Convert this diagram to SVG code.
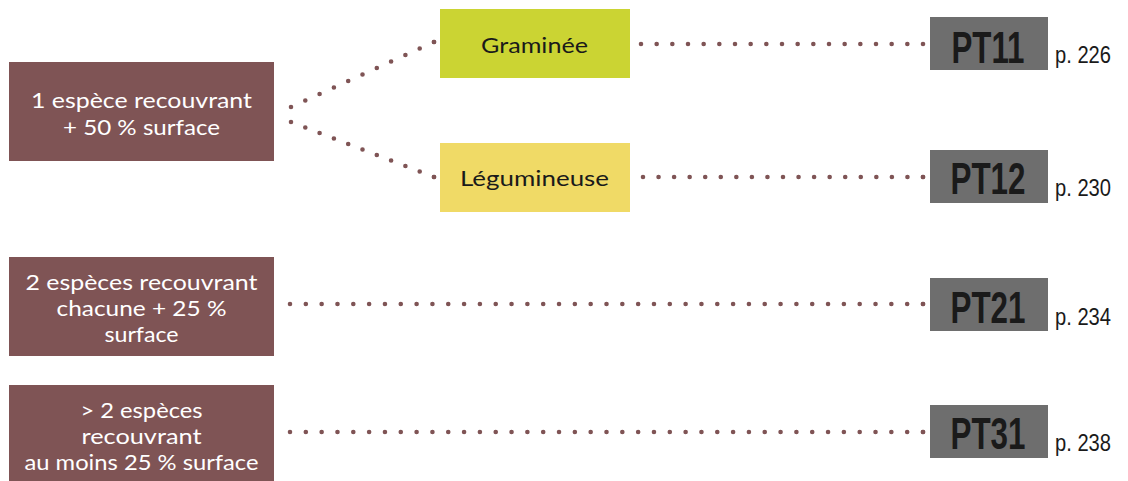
<svg xmlns="http://www.w3.org/2000/svg" width="1128" height="481" viewBox="0 0 1128 481">
<defs>
<marker id="enddot" markerUnits="userSpaceOnUse" markerWidth="6" markerHeight="6" refX="3" refY="3" viewBox="0 0 6 6">
<circle cx="3" cy="3" r="2.3" fill="#7f5455"/>
</marker>
</defs>
<style>
.brown{fill:#7f5455}
.wt{font-family:Lato,"Open Sans","Liberation Sans",Arial,sans-serif;font-size:21.5px;fill:#ffffff;text-anchor:middle}
.bt{font-family:Lato,"Open Sans","Liberation Sans",Arial,sans-serif;font-size:21.5px;fill:#1a1a1a;text-anchor:middle}
.pt{fill:#6e6e6e}
.ptt{font-family:"Liberation Sans Narrow","Liberation Sans",Arial,sans-serif;font-weight:bold;font-size:44px;fill:#1a1a1a;text-anchor:middle}
.pg{font-family:"Liberation Sans Narrow","Liberation Sans",Arial,sans-serif;font-size:23px;fill:#1a1a1a}
.dot{fill:none;stroke:#7f5455;stroke-width:4.6;stroke-linecap:round;stroke-dasharray:0 1;marker-end:url(#enddot)}
</style>
<g id="connectors">
<path class="dot" d="M291 107 L434 42" pathLength="10"/>
<path class="dot" d="M291 122 L434 177" pathLength="10"/>
<path class="dot" d="M641 44 L923 44" pathLength="18"/>
<path class="dot" d="M643 177 L923 177" pathLength="18"/>
<path class="dot" d="M290 304 L923 304" pathLength="40"/>
<path class="dot" d="M290 432 L923 432" pathLength="40"/>
</g>
<g id="n1">
<rect class="brown" x="9" y="62" width="265" height="99"/>
<text class="wt" x="141.5" y="108" textLength="221" lengthAdjust="spacingAndGlyphs">1 espèce recouvrant</text>
<text class="wt" x="141.5" y="135" textLength="157" lengthAdjust="spacingAndGlyphs">+ 50 % surface</text>
</g>
<g id="n2">
<rect class="brown" x="9" y="257" width="265" height="99"/>
<text class="wt" x="141.5" y="290" textLength="232" lengthAdjust="spacingAndGlyphs">2 espèces recouvrant</text>
<text class="wt" x="141.5" y="316" textLength="170" lengthAdjust="spacingAndGlyphs">chacune + 25 %</text>
<text class="wt" x="141.5" y="342" textLength="74" lengthAdjust="spacingAndGlyphs">surface</text>
</g>
<g id="n3">
<rect class="brown" x="9" y="385" width="265" height="96"/>
<text class="wt" x="141.5" y="418" textLength="122" lengthAdjust="spacingAndGlyphs">&gt; 2 espèces</text>
<text class="wt" x="141.5" y="444" textLength="120" lengthAdjust="spacingAndGlyphs">recouvrant</text>
<text class="wt" x="141.5" y="470" textLength="234" lengthAdjust="spacingAndGlyphs">au moins 25 % surface</text>
</g>
<g id="graminee">
<rect x="440" y="9" width="190" height="69" fill="#cbd433"/>
<text class="bt" x="534.5" y="53" textLength="107" lengthAdjust="spacingAndGlyphs">Graminée</text>
</g>
<g id="legumineuse">
<rect x="440" y="143" width="190" height="69" fill="#f0da66"/>
<text class="bt" x="534.5" y="186" textLength="149" lengthAdjust="spacingAndGlyphs">Légumineuse</text>
</g>
<g id="pt11">
<rect class="pt" x="930" y="17" width="118" height="53"/>
<text class="ptt" x="988" y="63" textLength="73" lengthAdjust="spacingAndGlyphs">PT11</text>
<text class="pg" x="1055" y="63" textLength="56" lengthAdjust="spacingAndGlyphs">p. 226</text>
</g>
<g id="pt12">
<rect class="pt" x="930" y="150" width="118" height="53"/>
<text class="ptt" x="988" y="194" textLength="75" lengthAdjust="spacingAndGlyphs">PT12</text>
<text class="pg" x="1055" y="196" textLength="56" lengthAdjust="spacingAndGlyphs">p. 230</text>
</g>
<g id="pt21">
<rect class="pt" x="930" y="278" width="118" height="53"/>
<text class="ptt" x="988" y="323" textLength="75" lengthAdjust="spacingAndGlyphs">PT21</text>
<text class="pg" x="1055" y="325" textLength="56" lengthAdjust="spacingAndGlyphs">p. 234</text>
</g>
<g id="pt31">
<rect class="pt" x="930" y="405" width="118" height="53"/>
<text class="ptt" x="988" y="449" textLength="75" lengthAdjust="spacingAndGlyphs">PT31</text>
<text class="pg" x="1055" y="451" textLength="56" lengthAdjust="spacingAndGlyphs">p. 238</text>
</g>
</svg>
